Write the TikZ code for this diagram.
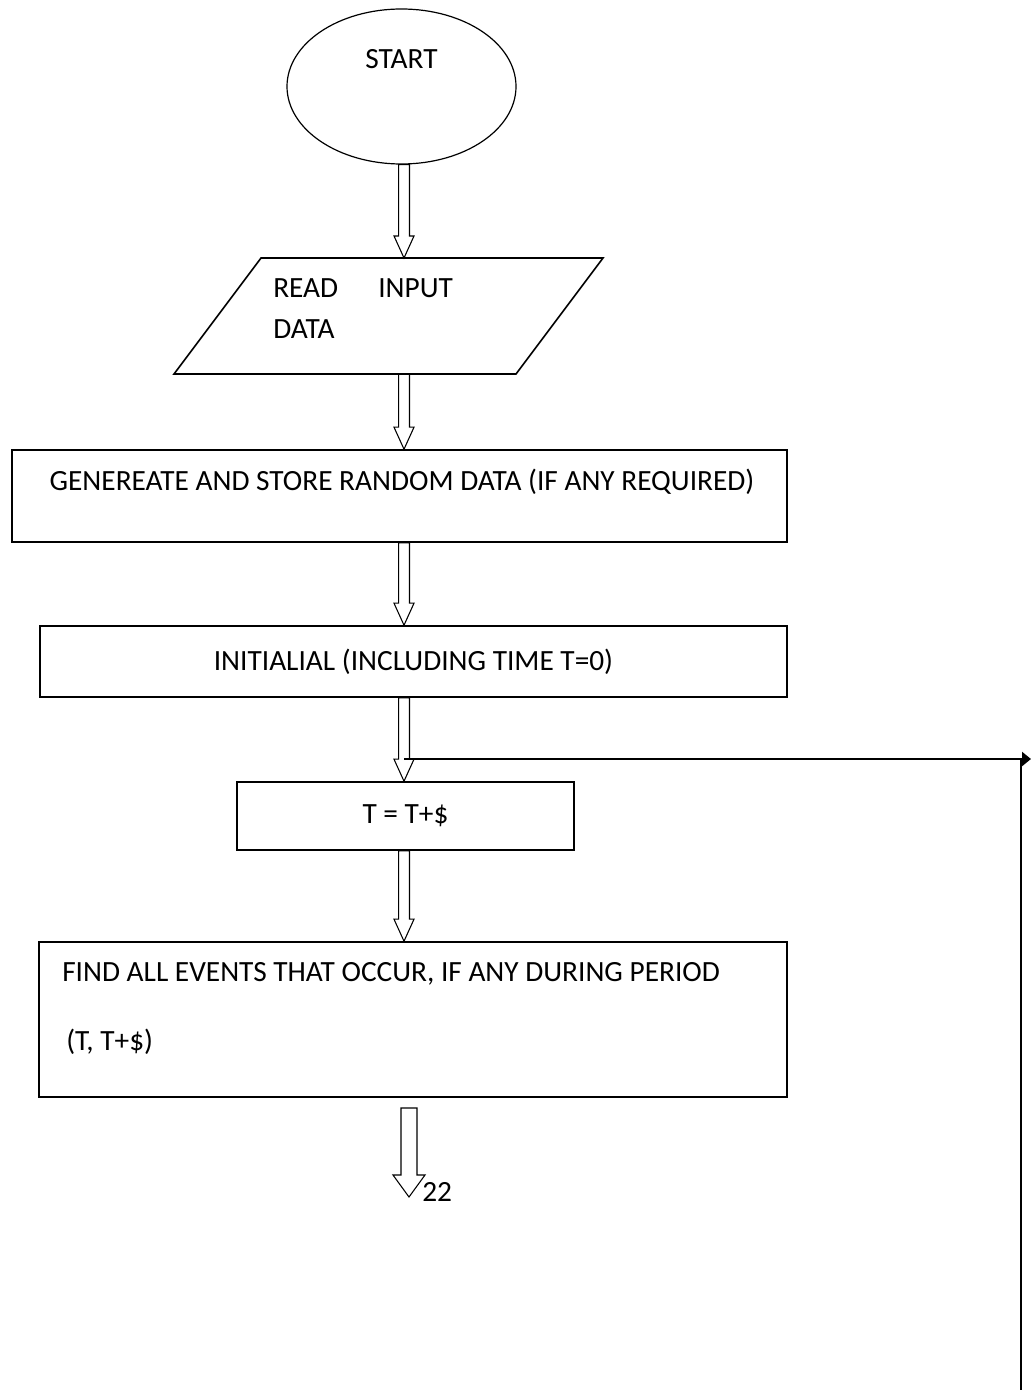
\documentclass[tikz,border=0pt]{standalone}
\usepackage{fontspec}
\setmainfont{Carlito}
\usetikzlibrary{shapes.geometric,arrows.meta,calc,positioning}

\tikzset{
  flowbox/.style={draw, line width=1.2pt, inner sep=0pt},
  flowtext/.style={inner sep=0pt, font=\fontsize{22}{26}\selectfont},
  arrowline/.style={draw, line width=0.8pt},
  loopline/.style={line width=1.9pt}
}

% hollow down arrow: from, to, shaft half width, head half width
\newcommand{\flowarrowsized}[4]{%
  \path[arrowline] let \p1=(#1), \p2=(#2) in
    (\x1-#3,\y1) -- (\x1-#3,\y2+16.5pt) -- (\x1-#4,\y2+16.5pt) -- (\x2,\y2)
    -- (\x1+#4,\y2+16.5pt) -- (\x1+#3,\y2+16.5pt) -- (\x1+#3,\y1) -- cycle;}
\newcommand{\flowarrow}[2]{\flowarrowsized{#1}{#2}{4.1pt}{7.5pt}}

\begin{document}
\begin{tikzpicture}[x=0.75pt, y=-0.75pt]
    % Page
    \fill[white] (0,0) rectangle (1032,1394);
    \coordinate (spine) at (404,0);

    % Start
    \node[flowbox, ellipse, line width=0.9pt, minimum width=171.75pt, minimum height=116.25pt] (start) at (401.5,86.5) {};
    \node[flowtext, anchor=base] (start-txt) at (401.5,69) {START};

    % Read input data
    \draw[flowbox] (261,258) -- (603,258) -- (516,374) -- (174,374) -- cycle;
    \coordinate (rd-top) at (404,258);
    \coordinate (rd-bot) at (404,374);
    \node[flowtext, anchor=base west] (rd-read) at (273,297.5) {READ};
    \node[flowtext, anchor=base west] (rd-input) at (378,297.5) {INPUT};
    \node[flowtext, anchor=base west] (rd-data) at (273,339) {DATA};

    % Generate random data
    \node[flowbox, minimum width=581.25pt, minimum height=69pt] (gen) at (399.5,496) {};
    \node[flowtext, anchor=base] (gen-txt) at (402,490.5) {GENEREATE AND STORE RANDOM DATA (IF ANY REQUIRED)};

    % Initialise
    \node[flowbox, flowtext, minimum width=560.25pt, minimum height=53.25pt] (init) at (413.5,661.5) {INITIALIAL (INCLUDING TIME T=0)};

    % Time step
    \node[flowbox, flowtext, minimum width=252.75pt, minimum height=51pt] (tstep) at (405.5,816) {T = T+\$};

    % Find events
    \node[flowbox, minimum width=561pt, minimum height=116.25pt] (find) at (413,1019.5) {};
    \node[flowtext, anchor=base west] (find-l1) at (62,981.5) {FIND ALL EVENTS THAT OCCUR, IF ANY DURING PERIOD};
    \node[flowtext, anchor=base west] (find-l2) at (66,1050.5) {(T, T+\$)};

    % Arrows
    \flowarrow{start.south -| spine}{rd-top}
    \flowarrow{rd-bot}{gen.north -| spine}
    \flowarrow{gen.south -| spine}{init.north -| spine}
    \flowarrow{init.south -| spine}{tstep.north -| spine}
    \flowarrow{tstep.south -| spine}{find.north -| spine}
    \coordinate (exit-top) at (409,1108);
    \coordinate (exit-tip) at (409,1197);
    \flowarrowsized{exit-top}{exit-tip}{6pt}{12pt}
    \node[flowtext, anchor=base west] (page-ref) at (422,1201) {22};

    % Loop line
    \coordinate (loop-start) at (404,759);
    \coordinate (loop-end) at (1031,759);
    \coordinate (loop-corner) at (1021,759);
    \coordinate (loop-foot) at (1021,1390);
    \draw[loopline, -{Triangle[length=6.75pt, width=10.5pt]}] (loop-start) -- (loop-end);
    \draw[loopline] (loop-corner) -- (loop-foot);
\end{tikzpicture}
\end{document}
